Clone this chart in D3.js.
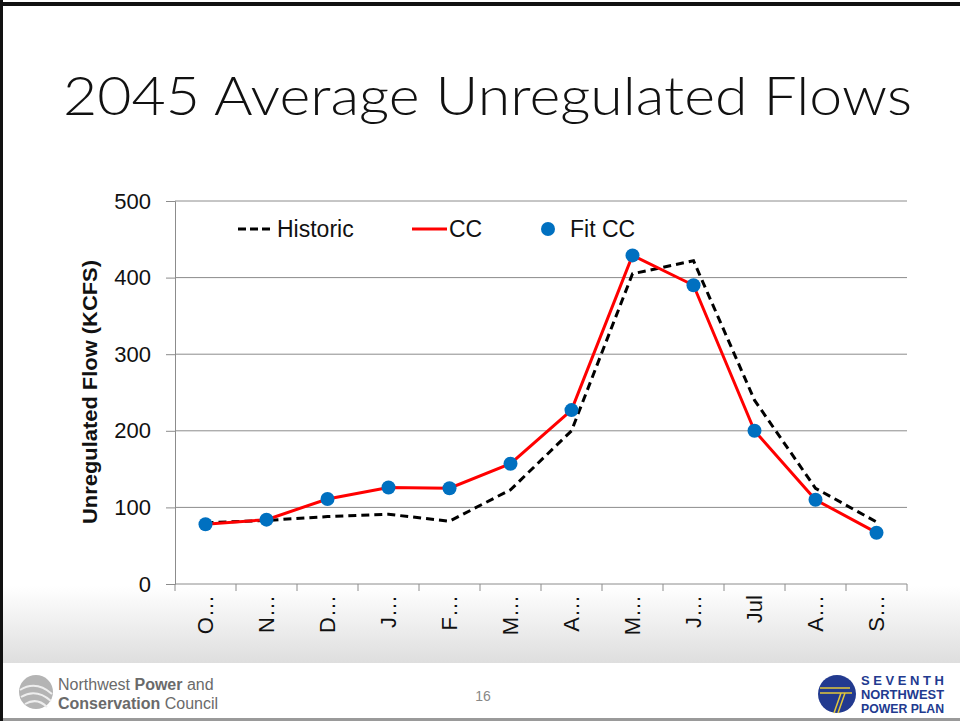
<!DOCTYPE html>
<html>
<head>
<meta charset="utf-8">
<script src="https://cdn.jsdelivr.net/npm/d3@7"></script>
<style>
  body { margin: 0; background: #fff; }
  svg { display: block; }
</style>
</head>
<body>
<div id="vis"></div>
<script>
// chart data
var categories = ["O\u2026", "N\u2026", "D\u2026", "J\u2026", "F\u2026", "M\u2026", "A\u2026", "M\u2026", "J\u2026", "Jul", "A\u2026", "S\u2026"];
var historic = [80, 83, 88, 91, 82, 123, 200, 405, 422, 240, 125, 81];
var cc = [78, 84, 111, 126, 125, 157, 227, 429, 390, 200, 110, 67];
var fitCC = [78, 84, 111, 126, 125, 157, 227, 429, 390, 200, 110, 67];
var yTicks = [0, 100, 200, 300, 400, 500];

var W = 960, H = 721;
var margin = {top: 201, right: 53, bottom: 137, left: 175},
    width = W - margin.left - margin.right,
    height = H - margin.top - margin.bottom;

var svg = d3.select("#vis")
    .append("svg")
    .attr("width", W)
    .attr("height", H);

// slide background: fade to grey near the bottom, then white footer
var defs = svg.append("defs");
var grad = defs.append("linearGradient")
    .attr("id", "fade")
    .attr("x1", 0).attr("y1", 0).attr("x2", 0).attr("y2", 1);
grad.append("stop").attr("offset", "0%").attr("stop-color", "#ffffff");
grad.append("stop").attr("offset", "100%").attr("stop-color", "#dedede");

svg.append("rect").attr("x", 0).attr("y", 586).attr("width", W).attr("height", 77)
    .attr("fill", "url(#fade)");
svg.append("rect").attr("x", 0).attr("y", 718).attr("width", W).attr("height", 3)
    .attr("fill", "#9a9a9a");
svg.append("rect").attr("x", 0).attr("y", 2).attr("width", W).attr("height", 4)
    .attr("fill", "#111");
svg.append("rect").attr("x", 0).attr("y", 0).attr("width", 3).attr("height", H)
    .attr("fill", "#111");

// title
svg.append("text")
    .attr("x", 63)
    .attr("y", 115)
    .attr("textLength", 849)
    .attr("lengthAdjust", "spacingAndGlyphs")
    .style("font-family", "Lato, 'DejaVu Sans', sans-serif")
    .style("font-weight", 300)
    .style("font-size", "54px")
    .style("fill", "#111")
    .text("2045 Average Unregulated Flows");

var g = svg.append("g")
    .attr("transform", "translate(" + margin.left + "," + margin.top + ")");

var x = d3.scaleBand()
    .domain(d3.range(categories.length))
    .range([0, width]);

var y = d3.scaleLinear()
    .domain([0, 500])
    .range([height, 0]);

var font = "'Liberation Sans', Arial, sans-serif";

// gridlines
g.append("g")
    .selectAll("line")
    .data(yTicks.slice(1))
    .enter()
    .append("line")
    .attr("x1", 0)
    .attr("x2", width)
    .attr("y1", function (d) { return y(d); })
    .attr("y2", function (d) { return y(d); })
    .style("stroke", "#8c8c8c")
    .style("stroke-width", 1);

// Y axis
var yAxis = g.append("g")
    .call(d3.axisLeft(y).tickValues(yTicks).tickSize(9).tickPadding(15));
yAxis.select(".domain").style("stroke", "#8c8c8c");
yAxis.selectAll(".tick line").style("stroke", "#8c8c8c");
yAxis.selectAll(".tick text")
    .style("font-family", font)
    .style("font-size", "22px")
    .style("fill", "#111");

// X axis: ticks sit on category boundaries
var xAxis = g.append("g")
    .attr("transform", "translate(0," + height + ")");
xAxis.append("line")
    .attr("x1", 0).attr("x2", width)
    .style("stroke", "#8c8c8c");
xAxis.selectAll(".bound")
    .data(d3.range(categories.length + 1))
    .enter()
    .append("line")
    .attr("class", "bound")
    .attr("x1", function (i) { return i * x.step(); })
    .attr("x2", function (i) { return i * x.step(); })
    .attr("y1", 0)
    .attr("y2", 7)
    .style("stroke", "#8c8c8c");
xAxis.selectAll(".lab")
    .data(categories)
    .enter()
    .append("text")
    .attr("class", "lab")
    .attr("transform", function (d, i) {
        return "translate(" + (x(i) + x.bandwidth() / 2) + ",11) rotate(-90)";
    })
    .attr("dy", "0.36em")
    .style("text-anchor", "end")
    .style("font-family", font)
    .style("font-size", "22px")
    .style("fill", "#111")
    .text(function (d) { return d; });

// Y axis title
svg.append("text")
    .attr("transform", "translate(97,392) rotate(-90)")
    .attr("textLength", 264)
    .attr("lengthAdjust", "spacingAndGlyphs")
    .style("text-anchor", "middle")
    .style("font-family", font)
    .style("font-weight", "bold")
    .style("font-size", "21px")
    .style("fill", "#111")
    .text("Unregulated Flow (KCFS)");

var cx = function (d, i) { return x(i) + x.bandwidth() / 2; };

// lines
var line = d3.line()
    .x(function (d, i) { return x(i) + x.bandwidth() / 2; })
    .y(function (d) { return y(d); });

g.append("path")
    .datum(historic)
    .attr("d", line)
    .style("fill", "none")
    .style("stroke", "#000")
    .style("stroke-width", 3)
    .style("stroke-dasharray", "8,5");

g.append("path")
    .datum(cc)
    .attr("d", line)
    .style("fill", "none")
    .style("stroke", "#ff0000")
    .style("stroke-width", 3);

g.append("g")
    .selectAll("circle")
    .data(fitCC)
    .enter()
    .append("circle")
    .attr("cx", cx)
    .attr("cy", function (d) { return y(d); })
    .attr("r", 7)
    .style("fill", "#0070c0");

// legend
var legend = svg.append("g").attr("transform", "translate(0,229)");
legend.append("line")
    .attr("x1", 238).attr("x2", 270).attr("y1", 0).attr("y2", 0)
    .style("stroke", "#000").style("stroke-width", 3).style("stroke-dasharray", "8,4");
legend.append("line")
    .attr("x1", 412).attr("x2", 447).attr("y1", 0).attr("y2", 0)
    .style("stroke", "#ff0000").style("stroke-width", 3);
legend.append("circle")
    .attr("cx", 548).attr("cy", 0).attr("r", 7)
    .style("fill", "#0070c0");
legend.selectAll("text")
    .data([[277, "Historic"], [449, "CC"], [570, "Fit CC"]])
    .enter()
    .append("text")
    .attr("x", function (d) { return d[0]; })
    .attr("dy", "0.36em")
    .style("font-family", font)
    .style("font-size", "23px")
    .style("fill", "#111")
    .text(function (d) { return d[1]; });

// footer: council logo, page number, plan logo
var foot = svg.append("g");
foot.append("circle").attr("cx", 36).attr("cy", 692).attr("r", 17).style("fill", "#b4b4b4");
foot.append("path")
    .attr("d", "M20,690 Q36,680 52,694 M21,697 Q36,688 51,701 M25,704 Q37,697 47,707")
    .style("fill", "none").style("stroke", "#eee").style("stroke-width", 2);
foot.append("text")
    .attr("x", 58).attr("y", 690)
    .style("font-family", font).style("font-size", "16px").style("fill", "#6a6a6a")
    .html("Northwest <tspan font-weight='bold'>Power</tspan> and");
foot.append("text")
    .attr("x", 58).attr("y", 709)
    .style("font-family", font).style("font-size", "16px").style("fill", "#6a6a6a")
    .html("<tspan font-weight='bold'>Conservation</tspan> Council");

foot.append("text")
    .attr("x", 483).attr("y", 701)
    .style("text-anchor", "middle")
    .style("font-family", font).style("font-size", "14px").style("fill", "#888")
    .text("16");

foot.append("circle").attr("cx", 837).attr("cy", 694).attr("r", 19).style("fill", "#223a8f");
foot.append("path")
    .attr("d", "M820,688 L850,688 M820,693 L852,693 M841,693 L834,713 M845,693 L838,713")
    .style("fill", "none").style("stroke", "#e2c73a").style("stroke-width", 1.5);
[["S E V E N T H", 685], ["NORTHWEST", 699], ["POWER PLAN", 713]].forEach(function (r) {
    foot.append("text")
        .attr("x", 861).attr("y", r[1])
        .attr("textLength", 83)
        .attr("lengthAdjust", "spacingAndGlyphs")
        .style("font-family", font).style("font-weight", "bold")
        .style("font-size", "12px").style("fill", "#223a8f")
        .text(r[0]);
});
</script>
</body>
</html>
